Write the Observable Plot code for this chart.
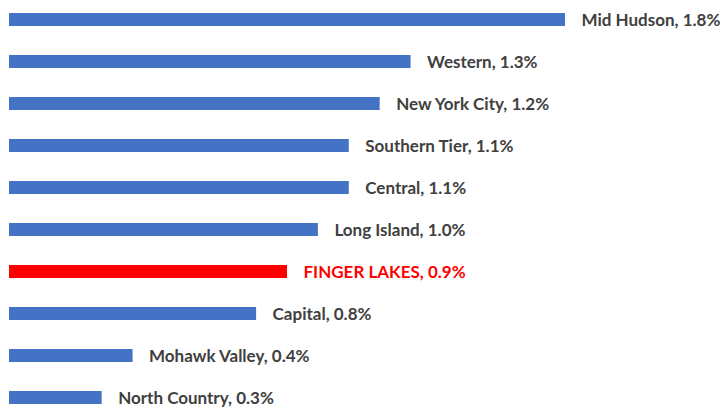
<!DOCTYPE html>
<html>
<head>
<meta charset="utf-8">
<script src="https://cdn.jsdelivr.net/npm/d3@7"></script>
<script src="https://cdn.jsdelivr.net/npm/@observablehq/plot@0.6"></script>
<style>
  html, body { margin: 0; padding: 0; background: #fff; }
</style>
</head>
<body>
<div id="chart"></div>
<script>
const regions = ["Mid Hudson", "Western", "New York City", "Southern Tier", "Central", "Long Island", "FINGER LAKES", "Capital", "Mohawk Valley", "North Country"];
const values = [1.8, 1.3, 1.2, 1.1, 1.1, 1.0, 0.9, 0.8, 0.4, 0.3];
const highlight = "FINGER LAKES";

const data = regions.map((r, i) => ({ region: r, value: values[i], hi: r === highlight }));

const chart = Plot.plot({
  width: 721,
  height: 414,
  marginLeft: 9,
  marginRight: 156,
  marginTop: 10.2,
  marginBottom: 7.1,
  x: { domain: [0, 1.8], axis: null },
  y: { domain: regions, axis: null, paddingInner: 0.68, paddingOuter: 0 },
  style: { fontFamily: "Lato, sans-serif", overflow: "visible" },
  marks: [
    Plot.barX(data, { y: "region", x: "value", fill: d => d.hi ? "#FF0000" : "#4472C4" }),
    Plot.text(data, {
      y: "region", x: "value",
      text: d => `${d.region}, ${d.value.toFixed(1)}%`,
      textAnchor: "start", dx: 16, dy: 1,
      fill: d => d.hi ? "#FF0000" : "#404040",
      fontWeight: "bold", fontSize: 17
    })
  ]
});
document.getElementById("chart").appendChild(chart);
</script>
</body>
</html>
